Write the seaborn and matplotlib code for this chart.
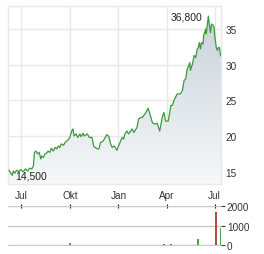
# IMPORT LIBRARIES

import numpy as np
import pandas as pd
import matplotlib
matplotlib.use("Agg")
import matplotlib.pyplot as plt
import matplotlib.dates as mdates
from matplotlib.colors import LinearSegmentedColormap
import seaborn as sns


# DATA

dates = [
    "2023-06-08", "2023-06-11", "2023-06-14", "2023-06-16", "2023-06-19", "2023-06-22",
    "2023-06-27", "2023-06-30", "2023-07-05", "2023-07-09", "2023-07-13", "2023-07-17",
    "2023-07-21", "2023-07-24", "2023-07-26", "2023-07-29", "2023-08-01", "2023-08-04",
    "2023-08-07", "2023-08-08", "2023-08-12", "2023-08-15", "2023-08-18", "2023-08-21",
    "2023-08-24", "2023-08-27", "2023-08-31", "2023-09-03", "2023-09-06", "2023-09-09",
    "2023-09-12", "2023-09-15", "2023-09-19", "2023-09-22", "2023-09-27", "2023-10-01",
    "2023-10-05", "2023-10-07", "2023-10-09", "2023-10-13", "2023-10-16", "2023-10-20",
    "2023-10-22", "2023-10-26", "2023-10-28", "2023-11-03", "2023-11-07", "2023-11-12",
    "2023-11-15", "2023-11-18", "2023-11-22", "2023-11-25", "2023-11-28", "2023-12-03",
    "2023-12-07", "2023-12-10", "2023-12-14", "2023-12-17", "2023-12-20", "2023-12-23",
    "2023-12-26", "2023-12-29", "2024-01-01", "2024-01-05", "2024-01-08", "2024-01-11",
    "2024-01-13", "2024-01-17", "2024-01-20", "2024-01-24", "2024-01-27", "2024-01-30",
    "2024-02-05", "2024-02-08", "2024-02-12", "2024-02-15", "2024-02-21", "2024-02-26",
    "2024-03-02", "2024-03-05", "2024-03-08", "2024-03-11", "2024-03-14", "2024-03-19",
    "2024-03-24", "2024-03-27", "2024-03-30", "2024-04-04", "2024-04-07", "2024-04-09",
    "2024-04-12", "2024-04-15", "2024-04-21", "2024-04-27", "2024-05-01", "2024-05-04",
    "2024-05-07", "2024-05-10", "2024-05-13", "2024-05-15", "2024-05-16", "2024-05-20",
    "2024-05-23", "2024-05-26", "2024-05-29", "2024-05-31", "2024-06-02", "2024-06-04",
    "2024-06-06", "2024-06-09", "2024-06-10", "2024-06-12", "2024-06-14", "2024-06-15",
    "2024-06-17", "2024-06-19", "2024-06-21", "2024-06-23", "2024-06-25", "2024-06-28",
    "2024-06-30", "2024-07-01", "2024-07-04", "2024-07-06", "2024-07-08", "2024-07-10",
    "2024-07-12", "2024-07-13",
]

prices = [
    15.2, 14.8, 14.5, 15.1, 14.8, 15.2,
    15.0, 15.3, 15.0, 15.4, 15.1, 15.5,
    15.4, 15.8, 17.7, 17.9, 17.5, 17.7,
    16.8, 17.2, 17.0, 17.5, 17.6, 17.9,
    17.7, 18.3, 17.9, 18.4, 18.2, 18.6,
    18.4, 18.9, 18.7, 19.1, 19.4, 19.8,
    20.8, 21.0, 20.0, 20.3, 19.8, 20.3,
    19.9, 20.4, 20.0, 20.3, 19.8, 19.8,
    18.6, 18.4, 18.2, 18.2, 19.1, 19.3,
    19.8, 20.2, 19.9, 18.9, 18.4, 18.6,
    18.4, 18.0, 18.6, 19.3, 19.8, 19.6,
    20.3, 20.7, 20.3, 20.7, 21.0, 20.5,
    21.2, 22.4, 22.6, 22.6, 23.2, 23.9,
    22.7, 21.9, 21.7, 21.7, 21.8, 20.7,
    22.7, 23.3, 22.1, 22.1, 23.3, 24.3,
    24.3, 25.0, 25.9, 25.9, 26.4, 27.8,
    28.0, 29.4, 29.9, 30.3, 29.2, 30.1,
    31.3, 31.0, 32.2, 32.4, 33.1, 32.2,
    33.1, 32.9, 34.1, 34.5, 35.0, 34.3,
    35.5, 36.8, 35.5, 34.5, 35.7, 35.5,
    35.2, 34.1, 32.4, 32.0, 32.4, 32.4,
    31.3, 31.2,
]

vol_dates = ["2023-07-29", "2023-10-02", "2024-03-27", "2024-04-09",
             "2024-05-31", "2024-07-04", "2024-07-13"]
vol_values = [20, 140, 80, 80, 340, 1700, 900]
vol_direction = ["up", "up", "down", "up", "up", "down", "up"]

month_ticks = ["2023-07-01", "2023-10-01", "2024-01-01", "2024-04-01", "2024-07-01"]
month_labels = ["Jul", "Okt", "Jan", "Apr", "Jul"]
price_ticks = [15, 20, 25, 30, 35]
vol_ticks = [0, 1000, 2000]


# STYLE

sns.set_style("white")
plt.rcParams["font.family"] = ["Liberation Sans", "DejaVu Sans"]
plt.rcParams["font.size"] = 7.2

df = pd.DataFrame({"date": pd.to_datetime(dates), "price": prices})
vol = pd.DataFrame({"date": pd.to_datetime(vol_dates), "volume": vol_values,
                    "direction": vol_direction})

x_start = pd.Timestamp("2023-06-06")
x_end = pd.Timestamp("2024-07-13 12:00")
y_low, y_high = 13.28, 38.22

fig = plt.figure(figsize=(2.64, 2.55), dpi=100)
ax = fig.add_axes([0.0303, 0.2745, 0.8080, 0.698])
axv = fig.add_axes([0.0303, 0.0325, 0.8080, 0.1557])


# PRICE CHART

# gradient area under the line
area = ax.fill_between(df["date"], df["price"], y_low, color="none", lw=0)
cmap = LinearSegmentedColormap.from_list("area", ["#f6f8f9", "#c9d3db"])
grad = np.linspace(0, 1, 256).reshape(-1, 1)
img = ax.imshow(grad, cmap=cmap, aspect="auto", origin="lower", zorder=1,
                extent=[mdates.date2num(x_start), mdates.date2num(x_end),
                        y_low, max(prices)])
img.set_clip_path(area.get_paths()[0], transform=ax.transData)

sns.lineplot(data=df, x="date", y="price", ax=ax, color="#3c9a3c",
             lw=0.9, zorder=3)

ax.set_xlim(x_start, x_end)
ax.set_ylim(y_low, y_high)
ax.set_xlabel("")
ax.set_ylabel("")

ax.set_xticks(pd.to_datetime(month_ticks))
ax.set_xticklabels(month_labels)
ax.set_yticks(price_ticks)
ax.yaxis.tick_right()
ax.tick_params(axis="both", length=0, colors="#333333", labelsize=7.2)
ax.tick_params(axis="x", pad=4)
ax.tick_params(axis="y", pad=3)
ax.grid(True, color="#e8e8e8", lw=1)
ax.set_axisbelow(True)
for s in ax.spines.values():
    s.set_color("#e8e8e8")
    s.set_linewidth(1)

# high / low labels
i_max = df["price"].idxmax()
i_min = df["price"].idxmin()
ax.annotate(f"{df.price[i_max]:.3f}".replace(".", ","),
            xy=(df.date[i_max], df.price[i_max]), xytext=(-4, 0),
            textcoords="offset points", ha="right", va="center",
            fontsize=7.5, color="#222222", zorder=4)
ax.annotate(f"{df.price[i_min]:.3f}".replace(".", ","),
            xy=(df.date[i_min], df.price[i_min]), xytext=(2.5, 0),
            textcoords="offset points", ha="left", va="center",
            fontsize=7.5, color="#222222", zorder=4)


# VOLUME CHART

colors = {"up": "#2e8b2e", "down": "#a52a2a"}
for d, grp in vol.groupby("direction"):
    axv.vlines(grp["date"], 0, grp["volume"], color=colors[d], lw=1.2, zorder=3)

axv.set_xlim(x_start, x_end)
axv.set_ylim(-15, 2015)
axv.set_yticks(vol_ticks)
axv.yaxis.tick_right()
axv.tick_params(axis="y", length=3, width=0.8, pad=1, colors="#333333",
                labelsize=7.2)
axv.set_xticks(pd.to_datetime(month_ticks))
axv.xaxis.tick_top()
axv.tick_params(axis="x", direction="inout", length=3, width=0.8,
                colors="#111111", labeltop=False)
axv.grid(True, axis="y", color="#c8c8c8", lw=1)
axv.grid(False, axis="x")
for s in axv.spines.values():
    s.set_visible(False)

fig.savefig("out.png", dpi=100)
